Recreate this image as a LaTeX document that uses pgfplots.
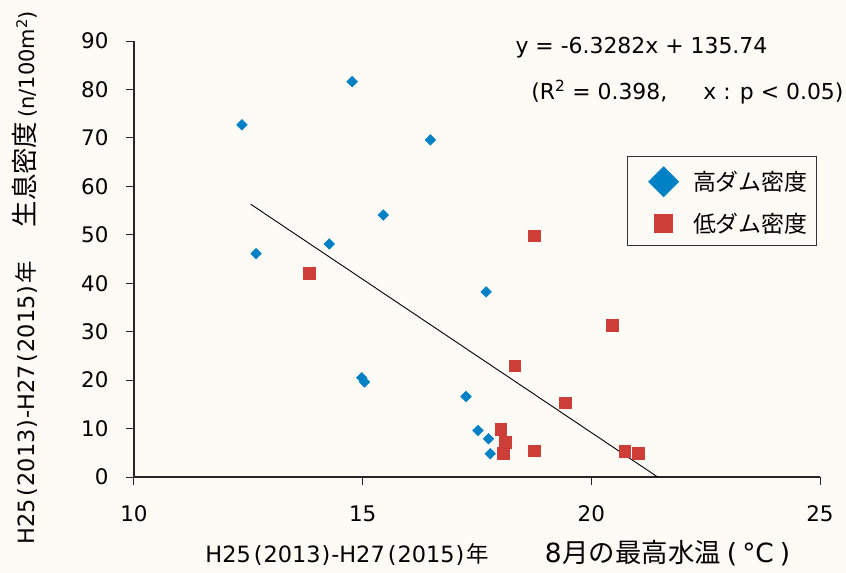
\documentclass[border=0pt]{standalone}
\usepackage{pgfplots}
\pgfplotsset{compat=1.18}
\usepackage{fontspec}
\setmainfont{DejaVu Sans}
\newfontfamily\jp{Noto Sans CJK JP}
\definecolor{bg}{RGB}{252,251,245}
\definecolor{dblue}{RGB}{0,128,197}
\definecolor{dred}{RGB}{205,62,56}
\newcommand{\yrs}{H25\hspace{3bp}(\hspace{1bp}2013\hspace{1bp})\hspace{1bp}-H27\hspace{3bp}(\hspace{1bp}2015\hspace{1bp})\hspace{2bp}{\jp 年}}
\begin{document}
\begin{tikzpicture}
\path[use as bounding box, fill=bg] (-134bp,-96bp) rectangle (712bp,477bp);
\begin{axis}[
 at={(0,0)}, anchor=south west,
 scale only axis, width=686bp, height=436bp,
 xmin=10, xmax=25, ymin=0, ymax=90,
 xtick={10,15,20,25}, ytick={0,10,...,90},
 axis x line*=bottom, axis y line*=left,
 axis line style={-, black!85, line width=1.1bp},
 tick style={black!85, line width=1bp},
 tick align=outside, major tick length=8bp,
 ticklabel style={font=\fontsize{21.5}{25}\selectfont},
 /pgf/number format/assume math mode=true,
 xticklabel style={yshift=-17bp},
 yticklabel style={xshift=-14bp},
 xlabel={\yrs\hspace{56bp}{\fontsize{26.5}{30}\selectfont 8\hspace{1bp}{\jp 月の最高水温}\hspace{6bp}(\hspace{5bp}°C\hspace{6bp})}},
 ylabel={\yrs\hspace{34bp}{\fontsize{26.5}{30}\selectfont\jp 生息密度}\hspace{4bp}{\fontsize{21}{25}\selectfont (n/100m\textsuperscript{2})}},
 xlabel style={at={(axis description cs:0.099,-0.195)}, anchor=base west, font=\fontsize{22.5}{26}\selectfont},
 ylabel style={at={(axis description cs:-0.145,-0.163)}, anchor=base west, font=\fontsize{22.5}{26}\selectfont},
 legend style={at={(rel axis cs:0.9956,0.736)}, anchor=north east,
   font=\fontsize{23}{27}\selectfont\jp, draw=black!80, line width=0.8bp,
   fill=bg, row sep=14bp, inner xsep=7bp, inner ysep=10bp},
 legend cell align=left,
 clip=false,
]
\addplot[only marks, mark=square*, mark size=3.8bp,
  mark options={rotate=45, fill=dblue, draw=dblue},
  legend image code/.code={\path (-29bp,0) (27bp,0); \draw[draw=dblue, fill=dblue, rotate=45] (-10.5bp,-10.5bp) rectangle (10.5bp,10.5bp);}]
 coordinates {
 (12.36,72.7) (14.77,81.6) (16.48,69.6) (12.67,46.1) (14.27,48.1)
 (15.45,54.1) (17.70,38.2) (14.98,20.5) (15.04,19.6) (17.26,16.6)
 (17.52,9.6) (17.75,7.9) (17.79,4.8)
 };
\addlegendentry{高ダム密度\hspace{4bp}}
\addplot[only marks, mark=square*, mark size=5.8bp,
  mark options={fill=dred, draw=dred},
  legend image code/.code={\path (-29bp,0) (27bp,0); \draw[draw=dred, fill=dred] (-9bp,-9bp) rectangle (9bp,9bp);}]
 coordinates {
 (13.83,42.1) (20.45,31.3) (18.32,23.0) (19.43,15.3) (18.02,9.9)
 (18.12,7.2) (18.07,4.9) (18.75,5.4) (20.73,5.3) (21.02,4.9)
 (18.75,49.8)
 };
\addlegendentry{低ダム密度\hspace{4bp}}
\addplot[black, line width=0.9bp, forget plot] coordinates {(12.55,56.32) (21.45,0.0)};
\node[anchor=west, font=\fontsize{22}{26}\selectfont] at (rel axis cs:0.551,0.984) {y = -6.3282x + 135.74};
\node[anchor=west, font=\fontsize{22}{26}\selectfont] at (rel axis cs:0.574,0.883) {(R\textsuperscript{2} = 0.398,\hspace{36bp}x : p < 0.05)};
\end{axis}
\end{tikzpicture}
\end{document}
